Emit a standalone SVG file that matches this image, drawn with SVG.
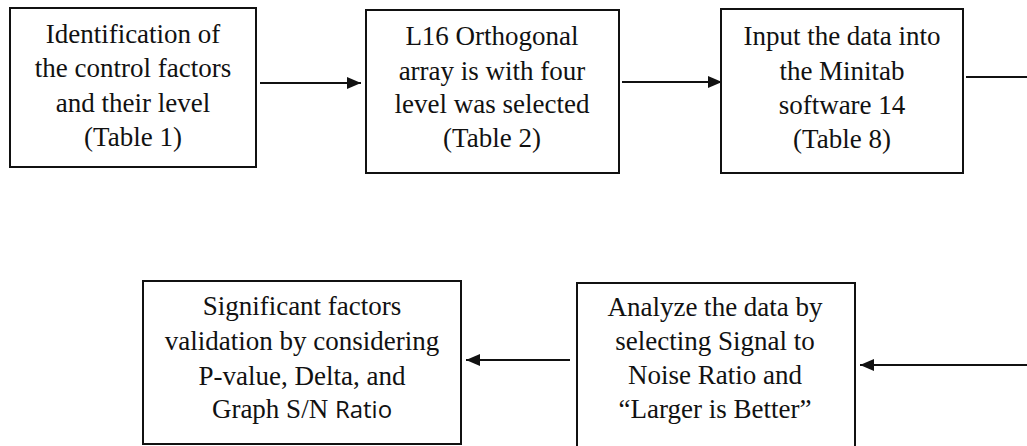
<svg xmlns="http://www.w3.org/2000/svg" width="1027" height="446" viewBox="0 0 1027 446">
<style>
.box{fill:#fff;stroke:#111;stroke-width:2}
.t{font-family:'Liberation Serif','DejaVu Serif',serif;font-size:27px;fill:#111;text-anchor:middle}
.sans{font-family:'Open Sans','Liberation Sans',sans-serif;font-size:24px}
.c{stroke:#111;stroke-width:2;fill:none}
</style>
<defs>
<marker id="ah" viewBox="0 0 14 12" refX="14" refY="6" markerWidth="14" markerHeight="12" markerUnits="userSpaceOnUse" orient="auto">
<path d="M0,0 L14,6 L0,12 Z" fill="#111"/>
</marker>
</defs>
<rect width="1027" height="446" fill="#fff"/>
<g id="connectors">
<line class="c" x1="260" y1="83" x2="361" y2="83" marker-end="url(#ah)"/>
<line class="c" x1="622" y1="82" x2="722" y2="82" marker-end="url(#ah)"/>
<line class="c" x1="966" y1="77" x2="1027" y2="77"/>
<line class="c" x1="1027" y1="365" x2="860" y2="365" marker-end="url(#ah)"/>
<line class="c" x1="570" y1="360" x2="466" y2="360" marker-end="url(#ah)"/>
</g>
<g id="node1">
<rect class="box" x="10" y="8" width="246" height="159"/>
<text class="t" x="133" y="43">Identification of</text>
<text class="t" x="133" y="77">the control factors</text>
<text class="t" x="133" y="112">and their level</text>
<text class="t" x="133" y="146">(Table 1)</text>
</g>
<g id="node2">
<rect class="box" x="366" y="10" width="253" height="163"/>
<text class="t" x="492" y="45">L16 Orthogonal</text>
<text class="t" x="492" y="80">array is with four</text>
<text class="t" x="492" y="113">level was selected</text>
<text class="t" x="492" y="147">(Table 2)</text>
</g>
<g id="node3">
<rect class="box" x="721" y="9" width="242" height="164"/>
<text class="t" x="842" y="45">Input the data into</text>
<text class="t" x="842" y="80">the Minitab</text>
<text class="t" x="842" y="114">software 14</text>
<text class="t" x="842" y="148">(Table 8)</text>
</g>
<g id="node4">
<rect class="box" x="143" y="281" width="318" height="163"/>
<text class="t" x="302" y="315">Significant factors</text>
<text class="t" x="302" y="350">validation by considering</text>
<text class="t" x="302" y="385">P-value, Delta, and</text>
<text class="t" x="302" y="418">Graph S/N <tspan class="sans">Ratio</tspan></text>
</g>
<g id="node5">
<rect class="box" x="577" y="283" width="278" height="170"/>
<text class="t" x="715" y="316">Analyze the data by</text>
<text class="t" x="715" y="350">selecting Signal to</text>
<text class="t" x="715" y="384">Noise Ratio and</text>
<text class="t" x="715" y="418">“Larger is Better”</text>
</g>
</svg>
